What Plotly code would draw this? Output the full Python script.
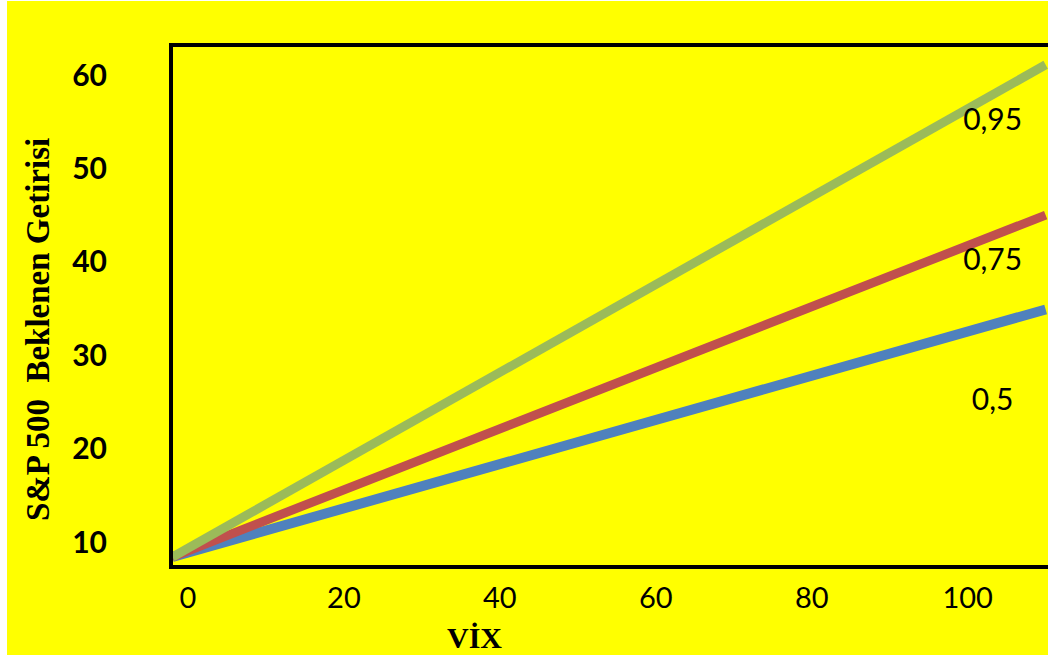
import plotly.graph_objects as go

vix = [-2, 110]
series_names = ["0,5", "0,75", "0,95"]
sp_05 = [8.4, 34.9]
sp_075 = [8.4, 45.0]
sp_095 = [8.4, 61.1]
colors = ["#4F81BD", "#C0504D", "#9BBB59"]
widths = [10, 9, 9]
label_x = [103.2, 103.2, 103.2]
label_y = [24.9, 39.9, 54.9]
y_ticks = [10, 20, 30, 40, 50, 60]
x_ticks = [0, 20, 40, 60, 80, 100]

fig = go.Figure()
for name, vals, col, w in zip(series_names, [sp_05, sp_075, sp_095], colors, widths):
    fig.add_trace(go.Scatter(x=vix, y=vals, mode="lines", name=name,
                             line=dict(color=col, width=w), showlegend=False))

fig.add_trace(go.Scatter(x=label_x, y=label_y, mode="text", text=series_names,
                         textfont=dict(family="Lato, Open Sans, sans-serif", size=30, color="black"),
                         showlegend=False, hoverinfo="skip"))

fig.add_shape(type="rect", xref="paper", yref="paper",
              x0=-0.1897, x1=1.01, y0=-0.1737, y1=1.0888,
              fillcolor="#FFFF00", line=dict(width=0), layer="below")

fig.add_annotation(xref="paper", yref="paper", x=(474 - 173) / 875, y=(565 - 637) / 518,
                   text="<b>VİX</b>", showarrow=False, xanchor="center", yanchor="middle",
                   font=dict(family="Liberation Serif, Times New Roman, serif", size=30, color="black"))

fig.add_annotation(xref="paper", yref="paper", x=(38 - 173) / 875, y=(565 - 330) / 518,
                   text="<b>S&P 500&nbsp;&nbsp;Beklenen&nbsp;Getirisi</b>", showarrow=False,
                   textangle=-90, xanchor="center", yanchor="middle",
                   font=dict(family="Liberation Serif, Times New Roman, serif", size=33, color="black"))

fig.update_layout(
    width=1048, height=661,
    margin=dict(l=173, r=0, t=47, b=96),
    paper_bgcolor="white",
    plot_bgcolor="#FFFF00",
    xaxis=dict(range=[-1.92, 110.3], tickvals=x_ticks, showgrid=False, zeroline=False,
               showline=True, linecolor="black", linewidth=4, mirror=True,
               ticks="", ticklabelstandoff=4,
               tickfont=dict(family="Liberation Sans Narrow, Lato, sans-serif", size=29, color="black")),
    yaxis=dict(range=[7.54, 63.0], tickvals=y_ticks, showgrid=False, zeroline=False,
               showline=True, linecolor="black", linewidth=4, mirror=False,
               ticks="", ticklabelstandoff=56,
               tickfont=dict(family="Lato, Open Sans, sans-serif", size=30, color="black", weight="bold")),
)

fig.write_html("out.html")
